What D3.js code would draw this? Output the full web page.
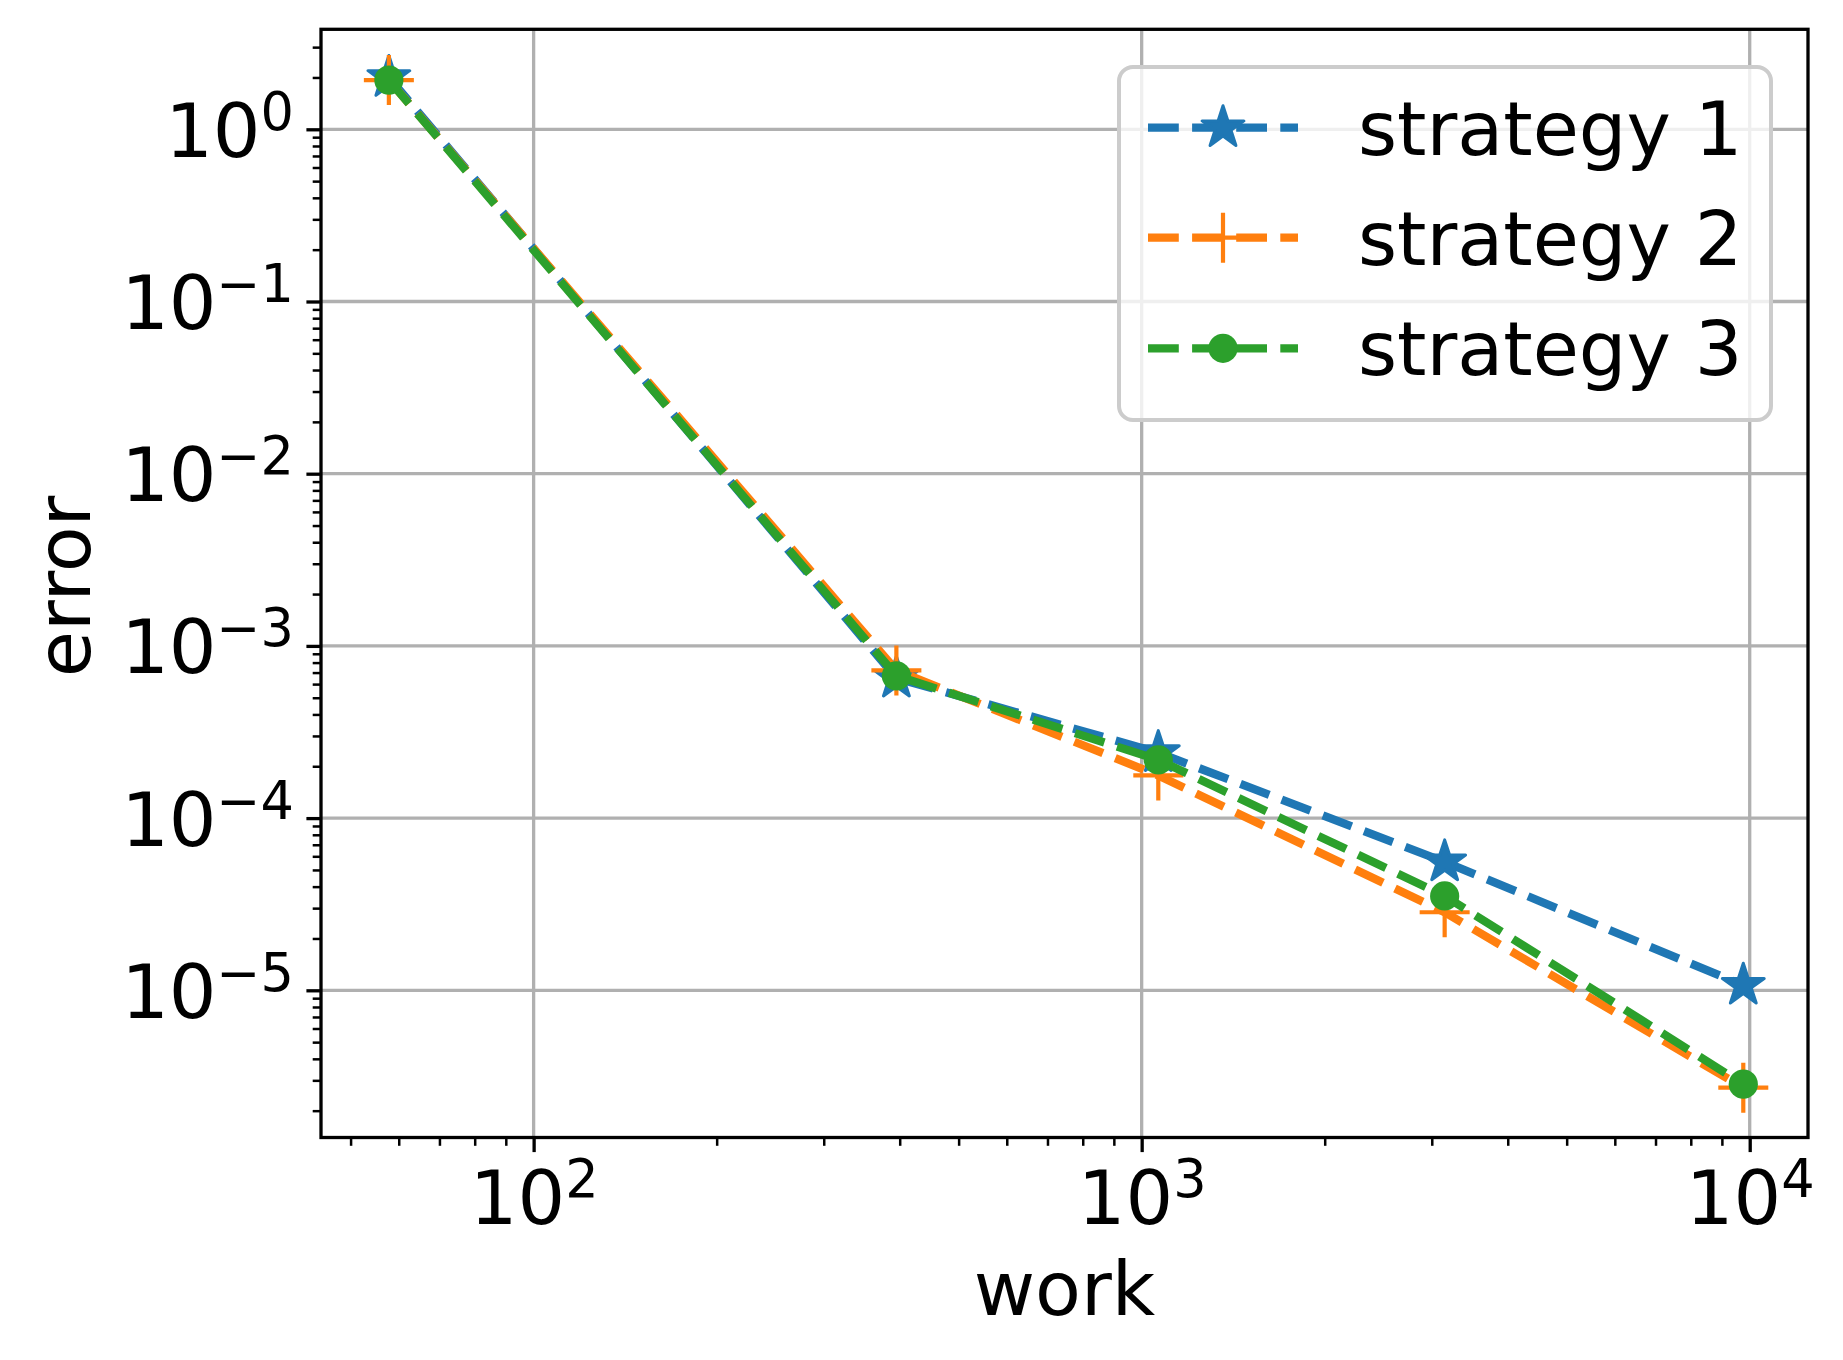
<!DOCTYPE html>
<meta charset="utf-8">
<style>
  body { margin: 0; background: #fff; }
  text { font-family: "DejaVu Sans", sans-serif; }
</style>
<body>
<script src="https://cdn.jsdelivr.net/npm/d3@7"></script>
<script>

// data
var work = [57.8, 395, 1065, 3150, 9760];
var strategy1 = [2.0, 6.5e-4, 2.4e-4, 5.57e-5, 1.07e-5];
var strategy2 = [1.93, 7.2e-4, 1.77e-4, 2.84e-5, 2.72e-6];
var strategy3 = [1.93, 6.7e-4, 2.18e-4, 3.53e-5, 2.85e-6];
var seriesNames = ["strategy 1", "strategy 2", "strategy 3"];
var xMajor = [1e2, 1e3, 1e4];
var yMajor = [1e0, 1e-1, 1e-2, 1e-3, 1e-4, 1e-5];

var colors = ["#1f77b4", "#ff7f0e", "#2ca02c"];
var markers = ["star", "plus", "circle"];

var W = 1843, H = 1360;
var margin = {top: 29.3, right: 35, bottom: 222.5, left: 321},
    width = W - margin.left - margin.right,
    height = H - margin.top - margin.bottom;

var svg = d3.select("body").append("svg")
    .attr("width", W)
    .attr("height", H);

svg.append("rect").attr("width", W).attr("height", H).attr("fill", "#fff");

var g = svg.append("g")
    .attr("transform", "translate(" + margin.left + "," + margin.top + ")");

var x = d3.scaleLog().domain([44.7, 12470]).range([0, width]);
var y = d3.scaleLog().domain([1.397e-6, 3.808]).range([height, 0]);

// minor ticks 2..9 x 10^k inside the domain
function minors(scale) {
  var d = scale.domain(), out = [];
  for (var k = -7; k <= 5; k++) {
    for (var m = 2; m <= 9; m++) {
      var v = m * Math.pow(10, k);
      if (v >= d[0] && v <= d[1]) out.push(v);
    }
  }
  return out;
}

// grid
g.append("g").selectAll("line").data(xMajor).enter().append("line")
    .attr("x1", function(d){ return x(d) }).attr("x2", function(d){ return x(d) })
    .attr("y1", 0).attr("y2", height)
    .attr("stroke", "#b0b0b0").attr("stroke-width", 3.3);
g.append("g").selectAll("line").data(yMajor).enter().append("line")
    .attr("y1", function(d){ return y(d) }).attr("y2", function(d){ return y(d) })
    .attr("x1", 0).attr("x2", width)
    .attr("stroke", "#b0b0b0").attr("stroke-width", 3.3);

// superscript label 10^n
function powerLabel(sel) {
  sel.each(function(d) {
    var t = d3.select(this), e = Math.round(Math.log10(d));
    t.text(null);
    t.append("tspan").text("10");
    t.append("tspan").attr("font-size", 52.5).attr("dy", -27)
      .text(e < 0 ? "\u2212" + (-e) : String(e));
  });
}

// x axis
var xMinorAxis = g.append("g").attr("transform", "translate(0," + height + ")")
    .call(d3.axisBottom(x).tickValues(minors(x)).tickSize(8.3).tickFormat(""));
xMinorAxis.selectAll("line").attr("stroke", "#000").attr("stroke-width", 2.5);

var xAxis = g.append("g").attr("transform", "translate(0," + height + ")")
    .call(d3.axisBottom(x).tickValues(xMajor).tickSize(14.6));
xAxis.selectAll("line").attr("stroke", "#000").attr("stroke-width", 3.3);
xAxis.selectAll("text")
    .attr("y", 86.5).attr("dy", null)
    .attr("font-size", 75).attr("fill", "#000")
    .call(powerLabel);

// y axis
var yMinorAxis = g.append("g")
    .call(d3.axisLeft(y).tickValues(minors(y)).tickSize(8.3).tickFormat(""));
yMinorAxis.selectAll("line").attr("stroke", "#000").attr("stroke-width", 2.5);

var yAxis = g.append("g")
    .call(d3.axisLeft(y).tickValues(yMajor).tickSize(14.6));
yAxis.selectAll("line").attr("stroke", "#000").attr("stroke-width", 3.3);
yAxis.selectAll("text")
    .attr("x", -27).attr("y", 27).attr("dy", null)
    .attr("font-size", 75).attr("fill", "#000")
    .attr("text-anchor", "end")
    .call(powerLabel);

g.selectAll(".domain").remove();

// axis titles
svg.append("text")
    .attr("x", margin.left + width / 2).attr("y", 1315)
    .attr("text-anchor", "middle").attr("font-size", 75)
    .text("work");
svg.append("text")
    .attr("transform", "translate(90," + (margin.top + height / 2 + 3) + ") rotate(-90)")
    .attr("text-anchor", "middle").attr("font-size", 75)
    .text("error");

// markers
function drawMarker(sel, type, color) {
  if (type === "star") {
    sel.append("path")
      .attr("d", d3.symbol(d3.symbolStar, 22 * 22 / 0.8908130915292852)())
      .attr("fill", color).attr("stroke", color)
      .attr("stroke-width", 3).attr("stroke-linejoin", "round");
  } else if (type === "plus") {
    sel.append("path")
      .attr("d", "M-25,0H25M0,-25V25")
      .attr("fill", "none").attr("stroke", color).attr("stroke-width", 4.2);
  } else {
    sel.append("circle").attr("r", 14.6).attr("fill", color);
  }
}

var allSeries = [strategy1, strategy2, strategy3];
var line = d3.line()
    .x(function(d, i){ return x(work[i]) })
    .y(function(d){ return y(d) });

var plot = g.append("g");
allSeries.forEach(function(vals, s) {
  plot.append("path")
    .attr("d", line(vals))
    .attr("fill", "none")
    .attr("stroke", colors[s])
    .attr("stroke-width", 8.3)
    .attr("stroke-dasharray", "30.8,13.3")
    .attr("stroke-linejoin", "round");
  plot.selectAll(null).data(vals).enter().append("g")
    .attr("transform", function(d, i){ return "translate(" + x(work[i]) + "," + y(d) + ")" })
    .each(function(){ drawMarker(d3.select(this), markers[s], colors[s]) });
});

// spines
g.append("rect")
    .attr("width", width).attr("height", height)
    .attr("fill", "none").attr("stroke", "#000").attr("stroke-width", 3.3);

// legend
var legend = svg.append("g");
legend.append("rect")
    .attr("x", 1119).attr("y", 67).attr("width", 652).attr("height", 353)
    .attr("rx", 14)
    .attr("fill", "#fff").attr("fill-opacity", 0.8)
    .attr("stroke", "#cccccc").attr("stroke-width", 4);

var rowY = [127.7, 237.7, 348.3];
seriesNames.forEach(function(name, s) {
  var row = legend.append("g").attr("transform", "translate(0," + rowY[s] + ")");
  row.append("line")
    .attr("x1", 1148).attr("x2", 1298).attr("y1", 0).attr("y2", 0)
    .attr("stroke", colors[s]).attr("stroke-width", 8.3)
    .attr("stroke-dasharray", "30.8,13.3");
  drawMarker(row.append("g").attr("transform", "translate(1223,0)"), markers[s], colors[s]);
  row.append("text")
    .attr("x", 1358).attr("y", 27)
    .attr("font-size", 75)
    .text(name);
});

</script>
</body>
